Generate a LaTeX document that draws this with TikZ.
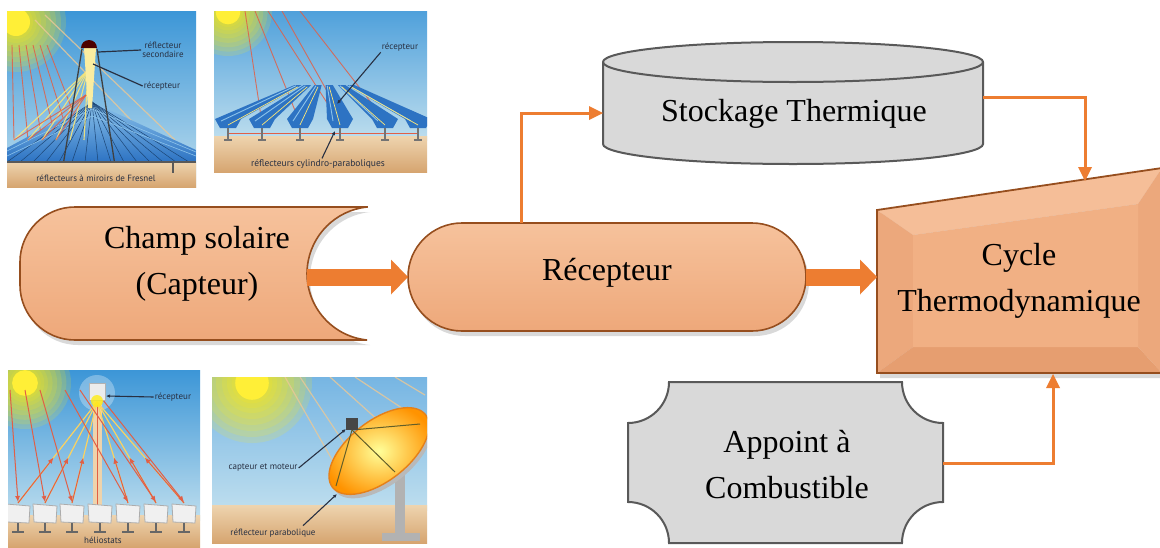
\documentclass[tikz,border=0pt]{standalone}
\usepackage{fontspec}
\setmainfont{Liberation Serif}
\newfontfamily\labfont{PT Sans}
\usetikzlibrary{arrows.meta,calc}
\definecolor{peach}{RGB}{241,176,132}
\definecolor{peachL}{RGB}{246,194,156}
\definecolor{peachD}{RGB}{238,168,122}
\definecolor{brownline}{RGB}{150,78,30}
\definecolor{arrorange}{RGB}{237,125,49}
\definecolor{grayfill}{RGB}{217,217,217}
\definecolor{grayline}{RGB}{89,89,89}
\definecolor{skyA}{RGB}{60,150,215}
\definecolor{skyB}{RGB}{190,222,238}
\definecolor{groundA}{RGB}{238,212,175}
\definecolor{groundB}{RGB}{214,165,112}
\definecolor{sunyel}{RGB}{255,236,20}
\definecolor{rayred}{RGB}{225,95,70}
\definecolor{rayyel}{RGB}{250,230,120}
\definecolor{raybeige}{RGB}{235,200,150}
\definecolor{mirrorblue}{RGB}{45,115,195}
\definecolor{mirrorlight}{RGB}{140,195,235}
\definecolor{labcol}{RGB}{40,48,66}
\definecolor{facetT}{RGB}{245,190,152}
\definecolor{facetL}{RGB}{236,168,124}
\definecolor{facetB}{RGB}{230,158,112}
\definecolor{facetR}{RGB}{236,168,124}
\newcommand\sunglow[2]{%
  \foreach \f in {1.0,0.9,0.8,0.7,0.6,0.5,0.42,0.34}
    \fill[sunyel, opacity=0.16] #1 circle ({#2*\f});
  \fill[sunyel!85!white] #1 circle ({#2*0.28});}
\tikzset{
  mainlbl/.style={font=\fontsize{32}{46}\selectfont, align=center, text=black, inner sep=0pt},
  orangeshape/.style={draw=brownline, line width=1.6pt, top color=peachL, bottom color=peachD},
  grayshape/.style={fill=grayfill, draw=grayline, line width=2pt},
  shadowshape/.style={fill=black, opacity=0.15},
  fatarrow/.style={draw=arrorange, line width=17pt, -{Triangle[width=35pt,length=17pt,line width=0pt]}},
  thinarrow/.style={draw=arrorange, line width=3pt, -{Triangle[width=14pt,length=14pt,line width=0pt]}},
  lbl/.style={font=\labfont\fontsize{9}{9.5}\selectfont, text=labcol, align=center, inner sep=1pt},
  ptr/.style={draw=labcol, line width=1.1pt, -{Latex[length=4pt,width=3.5pt]}},
  redray/.style={draw=rayred, line width=0.9pt, opacity=0.85},
  yelray/.style={draw=rayyel, line width=1.1pt, opacity=0.9},
  beigeray/.style={draw=raybeige, line width=1.2pt, opacity=0.8},
}
\begin{document}
\begin{tikzpicture}[x=1pt,y=1pt,yscale=-1]
\useasboundingbox (0,0) rectangle (1160,547);
\fill[white] (0,0) rectangle (1160,547);

% ---------- panel 1 : Fresnel ----------
\begin{scope}
\clip (7,11) rectangle (196,187);
\shade[top color=skyA, bottom color=skyB] (7,11) rectangle (196,187);
\sunglow{(16,22)}{50}
\foreach \i in {0,...,5} \draw[redray] (12+7*\i,45) -- (14+14*\i,140);
\draw[beigeray] (35,20) -- (150,140);
\draw[beigeray] (45,15) -- (175,140);
\shade[top color=mirrorlight, bottom color=mirrorblue] (7,148) -- (92,102) -- (196,150) -- (196,162) -- (7,162) -- cycle;
\foreach \x in {7,20,...,196} \draw[mirrorblue!60!black, line width=0.5pt] (92,102) -- (\x,162);
\draw[mirrorlight, line width=0.6pt] (7,156) -- (92,116) -- (196,156);
\draw[mirrorlight, line width=0.6pt] (7,151) -- (92,109) -- (196,152);
\foreach \i in {0,...,5} \draw[yelray] (14+14*\i,140) -- (88,70);
\foreach \i in {0,...,3} \draw[redray] (14+14*\i,140) -- (86,95);
\fill[rayyel!70!white] (84,48) -- (96,48) -- (92,108) -- (88,108) -- cycle;
\fill[black!70!red] (81,48) arc (180:360:8) -- cycle;
\draw[black!75, line width=1.3pt] (82,49) -- (62,172);
\draw[black!75, line width=1.3pt] (97,49) -- (116,172);
\shade[top color=groundA, bottom color=groundB] (7,162) rectangle (196,187);
\draw[black!65, line width=1.2pt] (7,162) -- (196,162);
\draw[black!65, line width=1.2pt] (173,162) -- (173,173);
\node[lbl] (p1a) at (163,50) {réflecteur\\secondaire};
\node[lbl] (p1b) at (162,86) {récepteur};
\node[lbl] (p1c) at (96,178) {réflecteurs à miroirs de Fresnel};
\draw[labcol, line width=1.2pt] (p1a.west) -- (98,52);
\draw[labcol, line width=1.2pt] (p1b.west) -- (93,64);
\end{scope}

% ---------- panel 2 : cylindro-parabolic ----------
\begin{scope}
\clip (214,11) rectangle (427,172);
\shade[top color=skyA!90!white, bottom color=skyB] (214,11) rectangle (427,140);
\shade[top color=groundA, bottom color=groundB] (214,136) rectangle (427,172);
\sunglow{(228,12)}{44}
\foreach \a/\b in {255/300,268/340,282/345,300/387,245/262}
  \draw[redray] (\a,11) -- (\b,123);
\foreach \x in {228,262,300,340,385,418} {
  \fill[mirrorblue] (\x-13,119) -- ($(\x-13,119)!0.72!(325,72)$) -- ($(\x+13,119)!0.72!(325,72)$) -- (\x+13,119) -- (\x+8,128) -- (\x-8,128) -- cycle;
  \draw[mirrorlight, line width=0.9pt] (\x-7,121) -- ($(\x-7,121)!0.72!(325,72)$);
  \draw[rayyel, line width=0.7pt] (\x,125) -- ($(\x,125)!0.72!(325,72)$);
}
\draw[rayred, line width=0.8pt] (228,133) -- (418,133);
\foreach \x in {228,262,300,340,385,418} {
  \draw[black!55, line width=1.3pt] (\x,128) -- (\x,140);
  \draw[black!55, line width=1.3pt] (\x-4,140) -- (\x+4,140);
}
\node[lbl] (p2a) at (400,47) {récepteur};
\node[lbl, font=\labfont\fontsize{9.5}{10}\selectfont] (p2b) at (318,164) {réflecteurs cylindro-paraboliques};
\draw[ptr] (p2a.south west) -- (337,104);
\draw[ptr] (p2b.north) ++(4,0) -- (335,131);
\end{scope}

% ---------- panel 3 : tower ----------
\begin{scope}
\clip (8,370) rectangle (200,547);
\shade[top color=skyA, bottom color=skyB] (8,370) rectangle (200,520);
\shade[top color=groundA, bottom color=groundB] (8,515) rectangle (200,547);
\sunglow{(25,383)}{46}
\fill[white, opacity=0.3] (97,393) circle (18);
\fill[raybeige!80!white] (93,400) rectangle (102,522);
\draw[rayred, line width=1pt] (97.5,402) -- (97.5,520);
\foreach \x in {18,45,72,128,156,184} {
  \draw[rayyel!80!orange, line width=1.2pt] (97,402) -- (\x,503);
  \draw[rayred, line width=1pt, -{Latex[length=6pt,width=5pt]}] (\x,503) -- ($(\x,503)!0.45!(97,402)$);
}
\foreach \a/\b in {40/18,55/45,70/72,95/128,110/156,125/184}
  \draw[rayred, line width=1pt, -{Latex[length=6pt,width=5pt]}] (\a-30,390) -- (\b,502);
\fill[gray!15] (89,383) rectangle (105,400);
\draw[gray!60] (89,383) rectangle (105,400);
\fill[sunyel, opacity=0.8] (97,401) circle (6);
\foreach \x in {18,45,72,100,128,156,184} {
  \draw[black!60, line width=2pt] (\x,520) -- (\x,532);
  \draw[black!60, line width=2pt] (\x-6,532) -- (\x+6,532);
  \fill[gray!12] (\x-12,504) -- (\x+12,506) -- (\x+11,523) -- (\x-11,522) -- cycle;
  \draw[gray!65, line width=0.8pt] (\x-12,504) -- (\x+12,506) -- (\x+11,523) -- (\x-11,522) -- cycle;
}
\node[lbl] (p3a) at (173,397) {récepteur};
\draw[ptr] (p3a.west) -- (106,396);
\node[lbl, font=\labfont\fontsize{9}{9}\selectfont] (p3b) at (103,540) {héliostats};
\end{scope}

% ---------- panel 4 : dish ----------
\begin{scope}
\clip (212,377) rectangle (427,543);
\shade[top color=skyA!70!white, bottom color=skyB] (212,377) rectangle (427,510);
\shade[top color=groundA, bottom color=groundB] (212,505) rectangle (427,543);
\sunglow{(252,383)}{60}
\foreach \a/\b/\c in {285/338/470,300/362/470,330/400/440,355/420/420,395/425/395}
  \draw[beigeray] (\a,377) -- (\b,\c);
\fill[gray!60] (395,470) rectangle (405,535);
\fill[gray!60] (382,533) rectangle (420,541);
\begin{scope}[shift={(382,455)}, rotate=-38]
  \fill[gray!55] (0,0) ellipse (59 and 30);
\end{scope}
\begin{scope}[shift={(379,451)}, rotate=-38]
  \shade[inner color=yellow!40!white, outer color=orange!85!yellow] (0,0) ellipse (59 and 30);
  \draw[orange!60!brown, line width=1.4pt] (0,0) ellipse (59 and 30);
\end{scope}
\draw[olive!60!black, line width=1pt] (352,430) -- (336,486);
\draw[olive!60!black, line width=1pt] (352,430) -- (420,424);
\draw[olive!60!black, line width=1pt] (352,430) -- (395,472);
\fill[gray!55!black] (346,418) rectangle (358,430);
\node[lbl] (p4a) at (263,468) {capteur et moteur};
\node[lbl] (p4b) at (273,533) {réflecteur parabolique};
\draw[ptr] (p4a.east) -- (346,429);
\draw[ptr] (p4b.north) ++(30,-2) -- (337,494);
\end{scope}

% ---------- main diagram ----------
% Champ solaire shape
\begin{scope}[shift={(3,5)}]
\fill[shadowshape] (367,207) -- (75,207) arc (270:180:55) -- (20,285) arc (180:90:55) -- (367,340) arc (95.9:264.1:66.85) -- cycle;
\end{scope}
\path[orangeshape] (367,207) -- (75,207) arc (270:180:55) -- (20,285) arc (180:90:55) -- (367,340) arc (95.9:264.1:66.85) -- cycle;
\node[mainlbl] (champ) at (197,264) {Champ solaire\\(Capteur)};

% Recepteur
\fill[shadowshape, rounded corners=54pt] (411,228) rectangle (809,336);
\path[orangeshape, rounded corners=54pt] (408,223) rectangle (806,331);
\node[mainlbl] (rec) at (607,273) {Récepteur};

% Stockage
\path[grayshape] (603,62) -- (603,144) arc (180:0:190 and 20) -- (983,62) arc (0:-180:190 and 20) -- cycle;
\draw[grayline, line width=2pt] (603,62) arc (180:0:190 and 20);
\node[mainlbl] (stock) at (794,114) {Stockage Thermique};

% Cycle thermodynamique
\fill[shadowshape] (880,214) -- (1165,172) -- (1165,378) -- (880,378) -- cycle;
\fill[facetT] (877,210) -- (1162,168) -- (1138,204) -- (913,235) -- cycle;
\fill[facetL] (877,210) -- (913,235) -- (913,347) -- (877,373) -- cycle;
\fill[facetB] (877,373) -- (913,347) -- (1138,347) -- (1162,373) -- cycle;
\fill[facetR] (1162,168) -- (1162,373) -- (1138,347) -- (1138,204) -- cycle;
\fill[peach] (913,235) -- (1138,204) -- (1138,347) -- (913,347) -- cycle;
\draw[brownline, line width=1.8pt] (877,210) -- (1162,168) -- (1162,373) -- (877,373) -- cycle;
\node[mainlbl] (cycle) at (1019,281) {Cycle\\Thermodynamique};

% Appoint
\path[grayshape] (669,382) -- (902,382) arc (180:90:41) -- (943,502) arc (270:180:41) -- (669,543) arc (0:-90:41) -- (628,423) arc (90:0:41) -- cycle;
\node[mainlbl] (appoint) at (787,465) {Appoint à\\Combustible};

% connectors
\coordinate (champE) at (307,277);
\coordinate (recW) at (408,277);
\coordinate (recE) at (806,277);
\coordinate (cycW) at (877,277);
\coordinate (recN) at (521,223);
\coordinate (stockW) at (603,113);
\coordinate (stockE) at (983,97);
\coordinate (cycN) at (1085,181);
\coordinate (appE) at (943,463);
\coordinate (cycS) at (1053,374);
\draw[fatarrow] (champE) -- (recW);
\draw[fatarrow] (recE) -- (cycW);
\draw[thinarrow] (recN) |- (stockW);
\draw[thinarrow] (stockE) -| (cycN);
\draw[thinarrow] (appE) -| (cycS);
\end{tikzpicture}
\end{document}
